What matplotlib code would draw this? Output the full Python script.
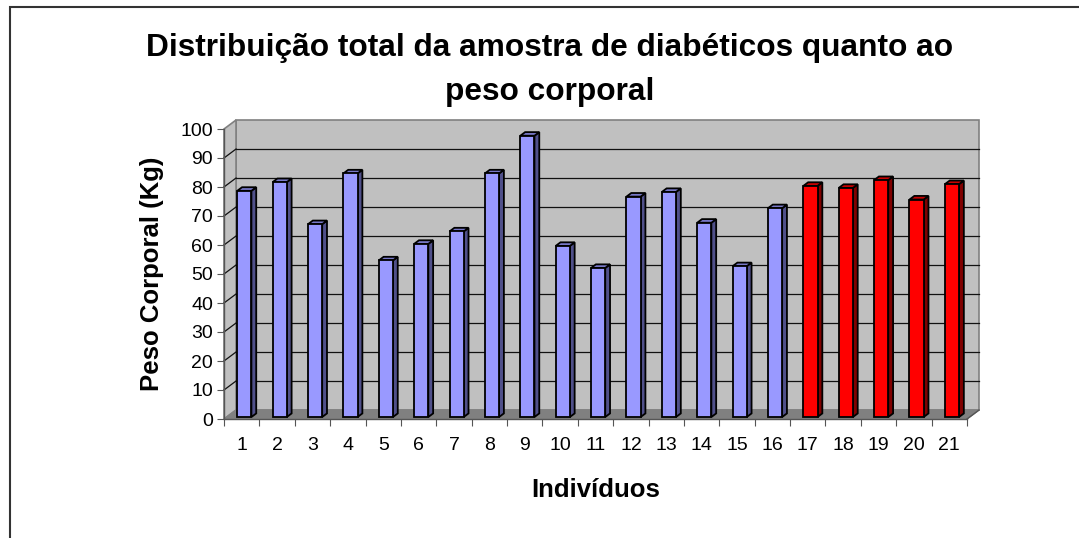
import matplotlib.pyplot as plt
from matplotlib.patches import Polygon, Rectangle

plt.rcParams['font.family'] = ['Liberation Sans', 'DejaVu Sans']

# dados
individuos = [str(i) for i in range(1, 22)]
peso = [78, 81, 66.5, 84, 54, 59.7, 64, 84, 97, 59, 51.4,
        76, 77.6, 67, 52, 72, 79.7, 79, 81.7, 75, 80.3]
grupo = ["a"] * 16 + ["b"] * 5

cores = {
    "a": ("#9999FF", "#7878C8", "#50508A"),   # frente, topo, lado
    "b": ("#FF0000", "#C80000", "#800000"),
}

n = len(peso)
DX = 0.34   # profundidade em categorias
DY = 3.1    # profundidade em unidades do eixo y
z0, z1 = 0.22, 0.62
larg = 0.40

fig = plt.figure(figsize=(10.79, 5.38), dpi=100)
fig.patches.append(Rectangle((10 / 1079, -0.1), 1.2, 1.1 - 7 / 538, transform=fig.transFigure,
                             fill=False, edgecolor="#333333", linewidth=1.5))

ax = fig.add_axes([224 / 1079, 1 - 419 / 538, (967 - 224) / 1079, (419 - 129) / 538])
ax.set_xlim(0, n)
ax.set_ylim(0, 100)
ax.patch.set_visible(False)


def pt(x, y, z):
    return (x + z * DX, y + z * DY)


# paredes e chao
parede = Polygon([pt(0, 0, 1), pt(n, 0, 1), pt(n, 100, 1), pt(0, 100, 1)], closed=True,
                 facecolor="#C0C0C0", edgecolor="#808080", linewidth=1.2, clip_on=False, zorder=0)
lateral = Polygon([pt(0, 0, 0), pt(0, 0, 1), pt(0, 100, 1), pt(0, 100, 0)], closed=True,
                  facecolor="#C0C0C0", edgecolor="#808080", linewidth=1.2, clip_on=False, zorder=0)
chao = Polygon([pt(0, 0, 0), pt(n, 0, 0), pt(n, 0, 1), pt(0, 0, 1)], closed=True,
               facecolor="#808080", edgecolor="#808080", linewidth=1, clip_on=False, zorder=0)
for p in (parede, lateral, chao):
    ax.add_patch(p)

for v in range(10, 100, 10):
    a, b = pt(0, v, 1), pt(n, v, 1)
    ax.plot([a[0], b[0]], [a[1], b[1]], color="#111111", lw=0.9, clip_on=False, zorder=1)
    c = pt(0, v, 0)
    ax.plot([c[0], a[0]], [c[1], a[1]], color="#111111", lw=0.9, clip_on=False, zorder=1)

# diagonal do chao a direita
a, b = pt(n, 0, 0), pt(n, 0, 1)
ax.plot([a[0], b[0]], [a[1], b[1]], color="#555555", lw=1, clip_on=False, zorder=1)

# barras
for i, (v, g) in enumerate(zip(peso, grupo)):
    frente, topo, lado = cores[g]
    x0, x1 = i + 0.5 - larg / 2, i + 0.5 + larg / 2
    kw = dict(closed=True, edgecolor="black", linewidth=1.3, clip_on=False, zorder=3,
              joinstyle="miter")
    ax.add_patch(Polygon([pt(x1, 0, z0), pt(x1, 0, z1), pt(x1, v, z1), pt(x1, v, z0)],
                         facecolor=lado, **kw))
    ax.add_patch(Polygon([pt(x0, v, z0), pt(x1, v, z0), pt(x1, v, z1), pt(x0, v, z1)],
                         facecolor=topo, **kw))
    ax.add_patch(Polygon([pt(x0, 0, z0), pt(x1, 0, z0), pt(x1, v, z0), pt(x0, v, z0)],
                         facecolor=frente, **kw))

# eixos
for s in ("top", "right"):
    ax.spines[s].set_visible(False)
for s in ("left", "bottom"):
    ax.spines[s].set_color("#555555")
    ax.spines[s].set_linewidth(1)
    ax.spines[s].set_zorder(4)

ax.set_yticks(range(0, 101, 10))
ax.tick_params(axis="y", labelsize=14, length=5, color="#555555", pad=3)
ax.set_xticks(range(0, n + 1))
ax.set_xticklabels([])
ax.set_xticks([i + 0.5 for i in range(n)], minor=True)
ax.set_xticklabels(individuos, minor=True)
ax.tick_params(axis="x", which="major", length=5, color="#555555")
ax.tick_params(axis="x", which="minor", length=0, labelsize=14, pad=13)

ax.set_xlabel("Indivíduos", fontsize=18.5, fontweight="bold", labelpad=17)
ax.set_ylabel("Peso Corporal (Kg)", fontsize=18.5, fontweight="bold", labelpad=12)

fig.text(550 / 1079, 1 - 70 / 538,
         "Distribuição total da amostra de diabéticos quanto ao\npeso corporal",
         ha="center", va="center", fontsize=22.8, fontweight="bold", linespacing=1.62)

fig.savefig("out.png", dpi=100)
